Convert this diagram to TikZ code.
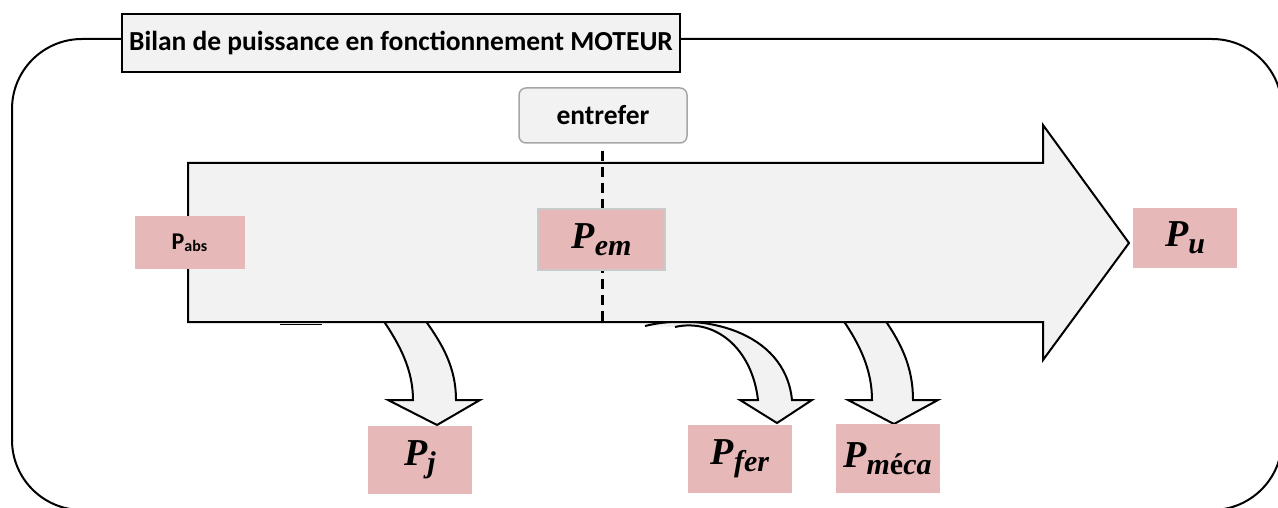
\documentclass[tikz,border=0pt]{standalone}
\usepackage{fontspec}
\newfontfamily\carlito{Carlito}
\newfontfamily\serifbi{Liberation Serif}
\definecolor{boxgray}{HTML}{F2F2F2}
\definecolor{pink}{HTML}{E6B8B7}
\definecolor{edgegray}{HTML}{A6A6A6}
\newcommand{\PP}[1]{{\serifbi\bfseries\itshape\fontsize{38}{40}\selectfont P\raisebox{-7pt}{\fontsize{30}{32}\selectfont #1}}}
\tikzset{
  flow/.style={draw=black, line width=2pt, fill=boxgray, line join=miter},
  pinkbox/.style={fill=pink, draw=none, inner sep=0pt},
  outline/.style={draw=black, line width=2pt},
}
\begin{document}
\begin{tikzpicture}[x=1pt,y=-1pt]
\useasboundingbox (0,0) rectangle (1278,508);
% outer frame
\draw[outline, rounded corners=70pt] (12,39) rectangle (1282,510);
% title
\node[outline, fill=boxgray, minimum width=558pt, minimum height=58pt, inner sep=0pt,
      font=\carlito\bfseries\fontsize{27.5}{30}\selectfont] (title) at (401,43)
      {Bilan de puissance en fonctionnement MOTEUR};
% entrefer
\node[draw=edgegray, line width=1.5pt, fill=boxgray, rounded corners=7pt,
      minimum width=168pt, minimum height=55pt, inner sep=0pt,
      font=\carlito\bfseries\fontsize{27.5}{30}\selectfont] (entrefer) at (603,115.5) {entrefer};
% loss arrows (under the main arrow)
\draw[line width=1.6pt] (280,324.5) -- (322,324.5);
\filldraw[flow] (383,320) .. controls (400,345) and (413,370) .. (413,400) -- (388,400) -- (437,425) -- (480,400) -- (456,400) .. controls (456,368) and (443,345) .. (425,320);
\filldraw[flow] (645,326) .. controls (700,312) and (785,330) .. (792,400) -- (812,400) -- (777,423) -- (740,400) -- (758,400) .. controls (752,348) and (715,318) .. (675,327);
\filldraw[flow] (843,320) .. controls (860,345) and (872,370) .. (872,400) -- (848,400) -- (894,424) -- (938,400) -- (913,400) .. controls (913,368) and (902,345) .. (885,320);
% main arrow
\filldraw[flow] (188,163) -- (1043,163) -- (1043,125) -- (1129,243) -- (1043,360) -- (1043,322) -- (188,322) -- cycle;
% entrefer dashed line
\coordinate (dashend) at (602,323);
\draw[line width=3pt, dash pattern=on 10pt off 6pt] (entrefer.south -| dashend) ++(0,7) -- (dashend);
% power boxes
\node[pinkbox, minimum width=110pt, minimum height=53pt, font=\carlito\bfseries] (pabs) at (189.5,242.5)
  {\fontsize{24}{26}\selectfont P\raisebox{-2pt}{\fontsize{16}{18}\selectfont abs}};
\node[pinkbox, draw=edgegray!60, line width=1.5pt, minimum width=127pt, minimum height=61pt] (pem) at (601.5,239.5)
  {\PP{em}\hspace{8pt}};
\node[pinkbox, minimum width=104pt, minimum height=60pt] (pu) at (1185,238)
  {\PP{u}\hspace{22pt}};
\node[pinkbox, minimum width=104pt, minimum height=68pt] (pj) at (420,460)
  {\PP{j}\hspace{18pt}};
\node[pinkbox, minimum width=104pt, minimum height=68pt] (pfer) at (740,459)
  {\PP{fer}\hspace{6pt}};
\node[pinkbox, minimum width=104pt, minimum height=69pt] (pmeca) at (887.5,458.5)
  {\PP{m\textup{é}ca}};
\end{tikzpicture}
\end{document}
